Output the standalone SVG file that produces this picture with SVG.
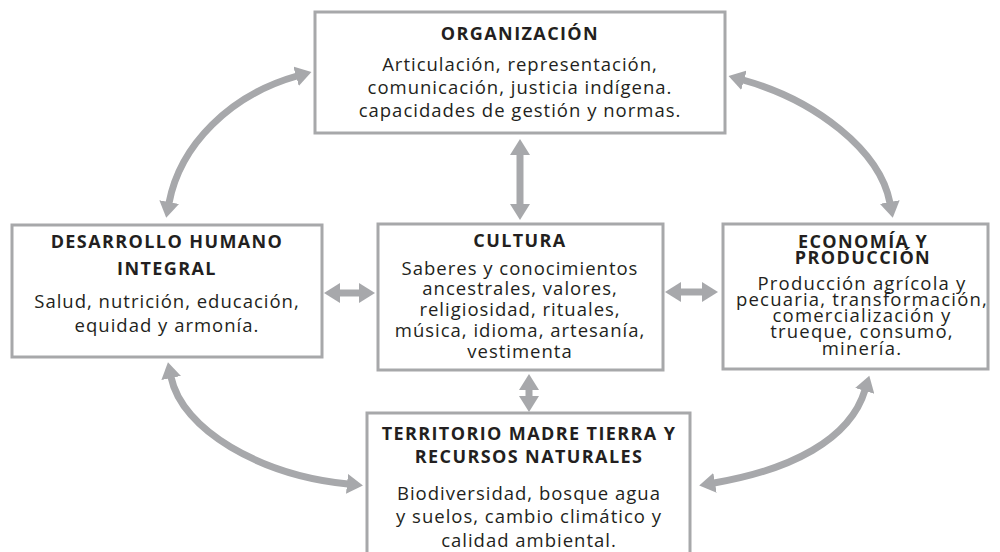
<svg xmlns="http://www.w3.org/2000/svg" width="1000" height="552" viewBox="0 0 1000 552">
<style>
.box{fill:#fff;stroke:#a7a8aa;stroke-width:3}
.t{font-family:"Open Sans","Liberation Sans",sans-serif;font-weight:700;font-size:18px;letter-spacing:1.4px;fill:#231f20;text-anchor:middle}
.b{font-family:"Open Sans","Liberation Sans",sans-serif;font-size:18.5px;letter-spacing:1px;fill:#231f20;text-anchor:middle}
.e{letter-spacing:1.2px}
.c{fill:none;stroke:#a7a8ab;stroke-width:7;marker-start:url(#ah);marker-end:url(#ah)}
</style>
<defs>
<marker id="ah" markerUnits="userSpaceOnUse" markerWidth="18" markerHeight="20" refX="1" refY="10" orient="auto-start-reverse" viewBox="0 0 18 20">
<path d="M0,0 L16,10 L0,20 z" fill="#a7a8ab"/>
</marker>
</defs>
<rect width="1000" height="552" fill="#fff"/>
<g id="connectors">
<path class="c" d="M169,203 C180,145 230,95 297,76"/>
<path class="c" d="M743,80 C815,100 880,150 890,203"/>
<path class="c" d="M171,377 C182,430 260,475 348,484"/>
<path class="c" d="M714,483 C790,470 850,440 865,390"/>
<path class="c" d="M520,154 L520,205"/>
<path class="c" d="M339,293 L360,293"/>
<path class="c" d="M680,292 L703,292"/>
<path class="c" d="M529,389 L529,397"/>
</g>
<g id="organizacion">
<rect class="box" x="315" y="12" width="410" height="121"/>
<text class="t" x="520" y="40">ORGANIZACIÓN</text>
<text class="b" x="520" y="71">Articulación, representación,</text>
<text class="b" x="520" y="94">comunicación, justicia indígena.</text>
<text class="b" x="520" y="117">capacidades de gestión y normas.</text>
</g>
<g id="desarrollo">
<rect class="box" x="12" y="225" width="310" height="132"/>
<text class="t" x="167" y="248">DESARROLLO HUMANO</text>
<text class="t" x="167" y="275">INTEGRAL</text>
<text class="b" x="167" y="308">Salud, nutrición, educación,</text>
<text class="b" x="167" y="332">equidad y armonía.</text>
</g>
<g id="cultura">
<rect class="box" x="378" y="224" width="285" height="146"/>
<text class="t" x="520" y="247">CULTURA</text>
<text class="b" x="520" y="275">Saberes y conocimientos</text>
<text class="b" x="520" y="295">ancestrales, valores,</text>
<text class="b" x="520" y="316">religiosidad, rituales,</text>
<text class="b" x="520" y="337">música, idioma, artesanía,</text>
<text class="b" x="520" y="358">vestimenta</text>
</g>
<g id="economia">
<rect class="box" x="723" y="224" width="265" height="145"/>
<text class="t" x="863" y="248">ECONOMÍA Y</text>
<text class="t" x="863" y="264">PRODUCCIÓN</text>
<text class="b e" x="862" y="290">Producción agrícola y</text>
<text class="b e" x="862" y="306">pecuaria, transformación,</text>
<text class="b e" x="862" y="322">comercialización y</text>
<text class="b e" x="862" y="338">trueque, consumo,</text>
<text class="b e" x="862" y="355">minería.</text>
</g>
<g id="territorio">
<rect class="box" x="367" y="413" width="323" height="150"/>
<text class="t" x="529" y="440">TERRITORIO MADRE TIERRA Y</text>
<text class="t" x="529" y="463">RECURSOS NATURALES</text>
<text class="b" x="529" y="500">Biodiversidad, bosque agua</text>
<text class="b" x="529" y="523">y suelos, cambio climático y</text>
<text class="b" x="529" y="547">calidad ambiental.</text>
</g>
</svg>
